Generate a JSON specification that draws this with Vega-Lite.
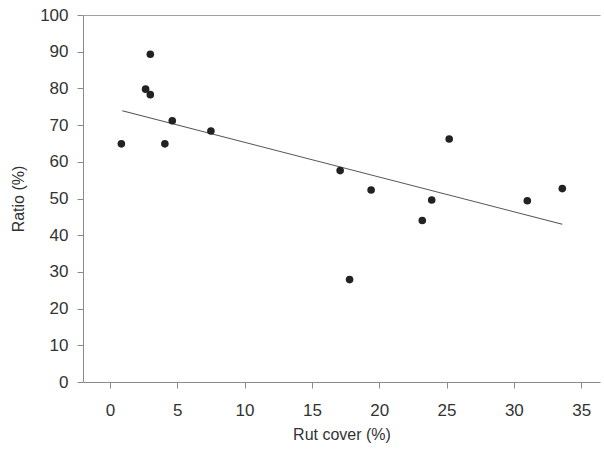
{
  "$schema": "https://vega.github.io/schema/vega-lite/v6.json",
  "width": 517,
  "height": 367,
  "autosize": {"type": "none"},
  "padding": {"left": 83, "top": 15, "right": 4, "bottom": 72},
  "background": "white",
  "config": {
    "view": {"stroke": null},
    "font": "Liberation Sans",
    "axis": {
      "grid": false,
      "domainColor": "#8a8a8a",
      "tickColor": "#8a8a8a",
      "labelColor": "#333333",
      "titleColor": "#333333",
      "labelFont": "Liberation Sans",
      "titleFont": "Liberation Sans",
      "labelFontSize": 17,
      "titleFontSize": 16,
      "titleFontWeight": "normal",
      "labelOverlap": false,
      "labelFlush": false,
      "tickSize": 6
    }
  },
  "datasets": {
    "pts": [
      {"rut": 0.85, "ratio": 64.9},
      {"rut": 2.65, "ratio": 79.8},
      {"rut": 3.0, "ratio": 89.3},
      {"rut": 3.0, "ratio": 78.3},
      {"rut": 4.08, "ratio": 64.9},
      {"rut": 4.63, "ratio": 71.2},
      {"rut": 7.5, "ratio": 68.4},
      {"rut": 17.1, "ratio": 57.6},
      {"rut": 17.8, "ratio": 27.9},
      {"rut": 19.4, "ratio": 52.3},
      {"rut": 23.2, "ratio": 44.0},
      {"rut": 23.9, "ratio": 49.6},
      {"rut": 25.2, "ratio": 66.2},
      {"rut": 31.0, "ratio": 49.4},
      {"rut": 33.6, "ratio": 52.7}
    ],
    "fit": [
      {"rut": 0.92, "ratio": 73.9},
      {"rut": 33.6, "ratio": 43.0}
    ]
  },
  "encoding": {
    "y": {
      "field": "ratio", "type": "quantitative",
      "scale": {"domain": [0, 100], "nice": false},
      "axis": {
        "title": "Ratio (%)",
        "values": [0, 10, 20, 30, 40, 50, 60, 70, 80, 90, 100],
        "tickCount": 11,
        "labelPadding": 9,
        "titlePadding": 13
      }
    }
  },
  "layer": [
    {
      "data": {"name": "fit"},
      "mark": {"type": "line", "color": "#555555", "strokeWidth": 1.1},
      "encoding": {
        "x": {
          "field": "rut", "type": "quantitative",
          "scale": {"domain": [-2, 36.4], "nice": false, "zero": false},
          "axis": {
            "title": "Rut cover (%)",
            "values": [0, 5, 10, 15, 20, 25, 30, 35],
            "labelPadding": 14,
            "titlePadding": 8
          }
        }
      }
    },
    {
      "data": {"name": "pts"},
      "mark": {"type": "circle", "color": "#222222", "opacity": 1, "size": 58},
      "encoding": {
        "x": {
          "field": "rut", "type": "quantitative",
          "axis": {
            "orient": "top",
            "labels": false,
            "ticks": false,
            "title": null,
            "domainColor": "#a0a0a0"
          }
        }
      }
    }
  ],
  "resolve": {"axis": {"x": "independent", "y": "shared"}, "scale": {"x": "shared"}}
}
